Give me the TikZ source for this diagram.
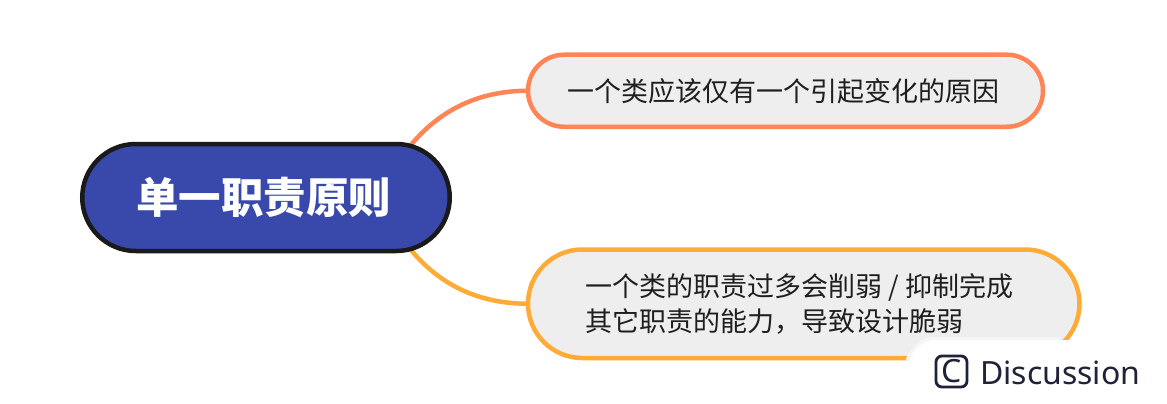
\documentclass[tikz,border=0pt]{standalone}
\usepackage{fontspec}
\setmainfont{Noto Sans}
\newfontfamily\cjk{Noto Sans CJK SC}
\usetikzlibrary{shapes.misc,backgrounds,calc}
\definecolor{rootblue}{HTML}{3949AB}
\definecolor{rootline}{HTML}{1A1A1A}
\definecolor{leaffill}{HTML}{EEEEEE}
\definecolor{branchA}{HTML}{FF8556}
\definecolor{branchB}{HTML}{FFAB36}
\definecolor{inkdark}{HTML}{1F2238}
\tikzset{
  pill/.style={rounded rectangle,outer sep=0pt,inner sep=0pt,line width=4.5pt,fill=leaffill,text=black!88,
    font=\cjk\fontsize{27}{35}\selectfont,align=left},
  rootpill/.style={rounded rectangle,outer sep=0pt,inner sep=0pt,line width=4.5pt,draw=rootline,fill=rootblue,text=white,
    font=\cjk\bfseries\fontsize{42.5}{50}\selectfont},
  branch/.style={line width=4.5pt}
}
\begin{document}
\begin{tikzpicture}[x=1pt,y=-1pt]
\useasboundingbox (0,0) rectangle (1167,404);
\node[rootpill,minimum width=367.5pt,minimum height=107pt] (root) at (266,197.5) {单一职责原则\kern5pt};
\node[pill,draw=branchA,minimum width=515pt,minimum height=72pt] (leafA) at (785.5,90.75) {一个类应该仅有一个引起变化的原因\kern4pt};
\node[pill,draw=branchB,minimum width=551.5pt,minimum height=108.5pt] (leafB) at (803.75,303.75) {一个类的职责过多会削弱 / 抑制完成\kern8pt\\其它职责的能力，导致设计脆弱};
\begin{scope}[on background layer]
\draw[branch,branchA] (leafA.west) .. controls +(-56,0) and ($(root.center)+(164,-82)$) .. ($(root.center)+(134,-38)$);
\draw[branch,branchB] (leafB.west) .. controls +(-56,0) and ($(root.center)+(164,82)$) .. ($(root.center)+(134,38)$);
\end{scope}
\fill[white] (907,362) .. controls (914,348) and (922,340) .. (934,340) -- (1167,340) -- (1167,404) -- (907,404) -- cycle;
\draw[black!4,line width=3pt] (907,360) .. controls (914,346) and (922,338.5) .. (934,338.5) -- (1060,338.5);
\node[draw=inkdark,line width=2.8pt,rounded corners=6pt,minimum size=31pt,inner sep=0pt,text=inkdark,font=\bfseries\fontsize{32}{32}\selectfont] (icon) at (951.5,371.5) {C};
\node[anchor=west,inner sep=0pt,text=inkdark,font=\fontsize{32}{32}\selectfont] (disc) at (980,372.5) {Discussion};
\end{tikzpicture}
\end{document}
